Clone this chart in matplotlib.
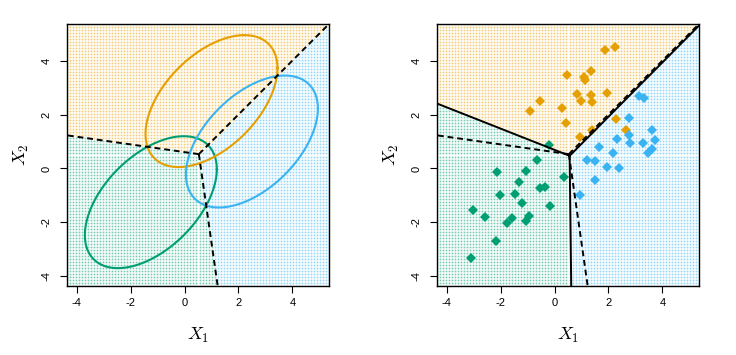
import numpy as np
import matplotlib
matplotlib.use("Agg")
import matplotlib.pyplot as plt

plt.rcParams["font.family"] = ["Liberation Sans", "DejaVu Sans"]
plt.rcParams["mathtext.fontset"] = "cm"
plt.rcParams["axes.unicode_minus"] = False

# class colours: green, orange, blue
class_colors = ["#009E73", "#E69F00", "#3AB3F3"]

# true (Bayes) class means and shared covariance, read from the ellipses
true_means = [(-1.25, -1.25), (1.0, 2.5), (2.5, 1.0)]
true_var = 1.0
true_rho = 0.5

# sampled observations (right panel)
green_x = [-0.19, -0.64, -2.15, -1.06, 0.36, -1.31, -0.54, -0.36, -2.02, -1.46,
           -1.21, -0.17, -3.01, -2.57, -1.56, -0.96, -1.75, -1.07, -2.16, -3.10]
green_y = [0.86, 0.32, -0.12, -0.11, -0.32, -0.52, -0.74, -0.70, -0.98, -0.93,
           -1.28, -1.38, -1.54, -1.79, -1.85, -1.75, -2.04, -1.96, -2.68, -3.32]
orange_x = [1.89, 2.23, 0.48, 1.09, 1.14, 1.37, 0.84, 1.37, 1.94, 0.98,
            1.40, -0.54, -0.90, 0.26, 0.42, 2.28, 2.65, 1.38, 0.94]
orange_y = [4.40, 4.51, 3.47, 3.41, 3.30, 3.63, 2.77, 2.72, 2.80, 2.52,
            2.47, 2.49, 2.14, 2.26, 1.67, 1.85, 1.44, 1.43, 1.16]
blue_x = [3.14, 3.31, 2.75, 3.60, 2.77, 2.33, 3.73, 2.81, 3.28, 1.64,
          3.63, 3.47, 2.17, 1.21, 1.52, 1.95, 2.38, 1.49, 0.96]
blue_y = [2.69, 2.63, 1.89, 1.43, 1.26, 1.10, 1.06, 0.96, 0.95, 0.81,
          0.72, 0.59, 0.59, 0.31, 0.27, 0.05, 0.00, -0.41, -1.00]

# LDA boundaries (solid lines, right panel): meeting point and far ends
# of the green/orange, orange/blue and green/blue boundaries
lda_center = (0.56, 0.47)
lda_end_go = (-4.36, 2.41)
lda_end_ob = (5.36, 5.30)
lda_end_gb = (0.62, -4.36)

lims = (-4.36, 5.36)
ticks = [-4, -2, 0, 2, 4]


def discriminants(means, cov, priors):
    inv = np.linalg.inv(cov)
    a = [inv @ np.array(m) for m in means]
    c = [-0.5 * np.array(m) @ inv @ np.array(m) + np.log(p) for m, p in zip(means, priors)]
    return np.array(a), np.array(c)


def boundary_rays(a, c):
    # triple point where all three discriminants are equal
    A = np.array([a[0] - a[1], a[0] - a[2]])
    b = np.array([c[1] - c[0], c[2] - c[0]])
    p = np.linalg.solve(A, b)
    rays = []
    for k, l in [(0, 1), (1, 2), (0, 2)]:
        m = 3 - k - l
        w = a[k] - a[l]
        d = np.array([-w[1], w[0]])
        d = d / np.linalg.norm(d)
        q = p + d
        if (a[k] @ q + c[k]) < (a[m] @ q + c[m]):
            d = -d
        rays.append((p, p + 20 * d))
    return rays


def grid_points():
    g = np.linspace(lims[0], lims[1], 88)
    gx, gy = np.meshgrid(g, g)
    return np.column_stack([gx.ravel(), gy.ravel()])


def draw_background(ax, pts, cls):
    for k in range(3):
        sel = cls == k
        ax.plot(pts[sel, 0], pts[sel, 1], "s", ms=1.2, mew=0,
                color=class_colors[k], alpha=0.55, zorder=0)


def classify_sectors(pts):
    cx, cy = lda_center
    ang = lambda e: np.arctan2(e[1] - cy, e[0] - cx) % (2 * np.pi)
    t_ob, t_go, t_gb = ang(lda_end_ob), ang(lda_end_go), ang(lda_end_gb)
    th = np.arctan2(pts[:, 1] - cy, pts[:, 0] - cx) % (2 * np.pi)
    cls = np.full(len(pts), 2)
    cls[(th > t_ob) & (th <= t_go)] = 1
    cls[(th > t_go) & (th <= t_gb)] = 0
    return cls


def draw_rays(ax, rays, style):
    for p, q in rays:
        ax.plot([p[0], q[0]], [p[1], q[1]], style, color="black", lw=1.4,
                zorder=3, dashes=(3, 2) if style == "--" else (None, None))


def style_axes(ax):
    ax.set_xlim(lims)
    ax.set_ylim(lims)
    ax.set_xticks(ticks)
    ax.set_yticks(ticks)
    ax.tick_params(direction="out", length=5, labelsize=8, width=0.8)
    ax.tick_params(axis="y", pad=6)
    for lab in ax.get_yticklabels():
        lab.set_rotation(90)
        lab.set_va("center")
    for s in ax.spines.values():
        s.set_linewidth(1.0)
    ax.set_xlabel("$X_1$", fontsize=13, labelpad=13)
    ax.set_ylabel("$X_2$", fontsize=13, labelpad=8)


true_cov = true_var * np.array([[1, true_rho], [true_rho, 1]])
a_true, c_true = discriminants(true_means, true_cov, [1 / 3] * 3)
bayes_rays = boundary_rays(a_true, c_true)

groups = [np.column_stack([green_x, green_y]),
          np.column_stack([orange_x, orange_y]),
          np.column_stack([blue_x, blue_y])]

lda_lines = [(lda_center, e) for e in (lda_end_go, lda_end_ob, lda_end_gb)]

fig = plt.figure(figsize=(7.36, 3.55), dpi=100)
ax1 = fig.add_axes([67 / 736, 1 - 286 / 355, 262 / 736, 262 / 355])
ax2 = fig.add_axes([437 / 736, 1 - 286 / 355, 262 / 736, 262 / 355])

pts = grid_points()

# left: 95% contours of the true densities and Bayes boundaries
bayes_cls = (pts @ a_true.T + c_true).argmax(axis=1)
draw_background(ax1, pts, bayes_cls)
t = np.linspace(0, 2 * np.pi, 300)
L = np.linalg.cholesky(true_cov)
r95 = np.sqrt(5.991)
for m, col in zip(true_means, class_colors):
    e = np.array(m)[:, None] + r95 * L @ np.vstack([np.cos(t), np.sin(t)])
    ax1.plot(e[0], e[1], color=col, lw=1.5, zorder=2)
draw_rays(ax1, bayes_rays, "--")
style_axes(ax1)

# right: observations, LDA (solid) and Bayes (dashed) boundaries
draw_background(ax2, pts, classify_sectors(pts))
for gr, col in zip(groups, class_colors):
    ax2.plot(gr[:, 0], gr[:, 1], "D", ms=4.6, mew=0, color=col, zorder=2)
draw_rays(ax2, bayes_rays, "--")
draw_rays(ax2, lda_lines, "-")
style_axes(ax2)

fig.savefig("out.png", dpi=100)
